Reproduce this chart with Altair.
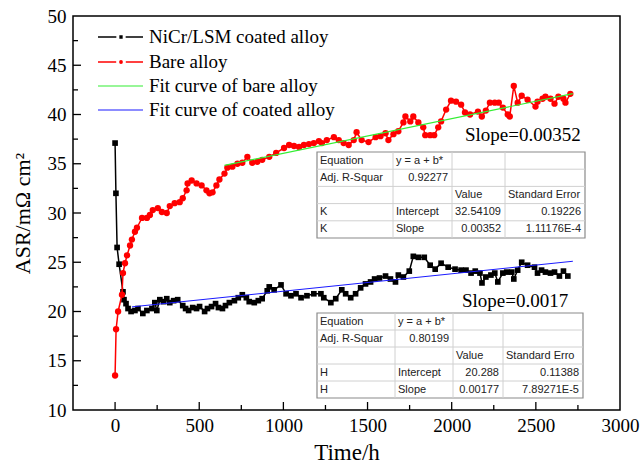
import altair as alt
import pandas as pd

# ---------------- data ----------------
coated_t = [0, 5, 12, 24, 47, 53, 65, 77, 95, 118,
            136, 165, 189, 219, 236, 248, 266, 289, 307, 325,
            348, 372, 402, 419, 437, 461, 484, 502, 532, 549,
            573, 597, 614, 638, 656, 679, 709, 732, 756, 780,
            797, 827, 851, 874, 904, 916, 945, 986, 1016, 1045,
            1075, 1105, 1140, 1181, 1223, 1240, 1282, 1311, 1347, 1370,
            1400, 1429, 1459, 1488, 1518, 1542, 1571, 1607, 1636, 1666,
            1683, 1713, 1748, 1772, 1802, 1837, 1872, 1902, 1937, 1979,
            2020, 2056, 2085, 2115, 2140, 2168, 2180, 2203, 2233, 2256,
            2274, 2304, 2327, 2357, 2369, 2392, 2416, 2451, 2492, 2510,
            2534, 2557, 2587, 2611, 2640, 2664, 2690]
coated_v = [37.1, 32.0, 26.5, 24.8, 22.0, 21.2, 20.8, 20.3, 20.0, 20.1,
            20.3, 19.8, 20.1, 20.3, 20.9, 20.1, 21.2, 21.0, 21.3, 20.9,
            21.1, 21.2, 20.6, 20.3, 20.1, 20.4, 20.3, 20.5, 20.0, 20.3,
            20.5, 20.8, 20.4, 20.3, 20.6, 20.9, 21.1, 21.4, 21.7, 21.4,
            21.0, 20.9, 21.1, 21.3, 22.1, 22.5, 22.2, 22.7, 21.8, 21.6,
            21.8, 21.4, 21.6, 21.8, 21.8, 21.4, 20.9, 21.3, 22.2, 21.8,
            21.4, 21.8, 22.4, 22.8, 23.0, 23.3, 23.4, 23.6, 23.3, 23.0,
            23.7, 23.5, 24.1, 25.6, 25.5, 25.5, 24.7, 24.3, 24.9, 24.5,
            24.3, 24.2, 24.2, 23.9, 24.1, 23.9, 22.9, 23.5, 23.7, 23.9,
            23.0, 23.9, 24.0, 24.0, 23.3, 24.2, 25.0, 24.7, 24.5, 23.9,
            24.2, 24.0, 23.9, 24.0, 23.6, 24.1, 23.6]

bare_t = [0, 6, 18, 41, 47, 59, 71, 89, 100, 118,
          130, 160, 189, 207, 224, 254, 278, 307, 325, 354,
          384, 402, 425, 431, 455, 484, 514, 543, 561, 579,
          602, 620, 650, 667, 697, 727, 756, 786, 815, 845,
          874, 916, 957, 1004, 1034, 1063, 1093, 1122, 1152, 1181,
          1211, 1229, 1258, 1300, 1329, 1358, 1388, 1418, 1435, 1465,
          1506, 1548, 1577, 1607, 1624, 1654, 1683, 1713, 1725, 1754,
          1772, 1802, 1831, 1843, 1872, 1896, 1920, 1937, 1967, 1996,
          2026, 2056, 2079, 2109, 2156, 2179, 2203, 2227, 2256, 2280,
          2304, 2333, 2345, 2369, 2392, 2416, 2451, 2498, 2510, 2540,
          2557, 2587, 2611, 2634, 2664, 2676, 2705]
bare_v = [13.5, 18.2, 20.0, 21.7, 23.9, 24.9, 25.7, 26.7, 27.3, 28.1,
          28.5, 29.5, 29.5, 29.8, 30.3, 30.5, 30.1, 30.0, 30.7, 31.0,
          31.1, 31.5, 32.3, 33.0, 33.3, 33.0, 32.8, 32.3, 32.0, 32.1,
          32.8, 33.4, 34.0, 34.6, 34.7, 35.0, 35.1, 35.7, 35.1, 35.2,
          35.4, 35.7, 36.1, 36.6, 36.9, 36.8, 36.7, 36.9, 37.0, 37.1,
          37.3, 37.1, 37.4, 37.7, 37.4, 37.1, 36.9, 37.4, 38.2, 37.4,
          37.2, 37.7, 37.8, 38.1, 37.4, 38.0, 38.3, 39.2, 39.8, 39.3,
          39.8, 39.2, 38.7, 37.9, 37.9, 37.9, 38.7, 39.3, 40.5, 41.4,
          41.3, 41.0, 40.2, 40.0, 40.3, 39.8, 40.4, 41.2, 41.2, 41.2,
          40.7, 40.0, 39.8, 42.9, 41.2, 41.9, 41.5, 40.8, 41.3, 41.6,
          41.8, 41.6, 41.1, 41.8, 41.6, 41.2, 42.1]

# fitted lines (end points, from the fit tables)
fit_bare_t = [650, 2720]
fit_bare_v = [34.83, 42.12]
fit_coated_t = [100, 2720]
fit_coated_v = [20.47, 25.10]

x_major = [0, 500, 1000, 1500, 2000, 2500]
x_minor = [250, 750, 1250, 1750, 2250, 2750]
x_labels = [0, 500, 1000, 1500, 2000, 2500, 3000]
y_major = [15, 20, 25, 30, 35, 40, 45]
y_minor = [12.5, 17.5, 22.5, 27.5, 32.5, 37.5, 42.5, 47.5]
y_labels = [10, 15, 20, 25, 30, 35, 40, 45, 50]

legend_labels = ["NiCr/LSM coated alloy", "Bare alloy",
                 "Fit curve of bare alloy", "Fit curve of coated alloy"]

table_k = [["Equation", "y = a + b*", "", ""],
           ["Adj. R-Squar", "0.92277", "", ""],
           ["", "", "Value", "Standard Error"],
           ["K", "Intercept", "32.54109", "0.19226"],
           ["K", "Slope", "0.00352", "1.11176E-4"]]
table_h = [["Equation", "y = a + b*", "", ""],
           ["Adj. R-Squar", "0.80199", "", ""],
           ["", "", "Value", "Standard Erro"],
           ["H", "Intercept", "20.288", "0.11388"],
           ["H", "Slope", "0.00177", "7.89271E-5"]]
slope_bare_text = "Slope=0.00352"
slope_coated_text = "Slope=0.0017"

# ---------------- layout ----------------
W, H = 547, 394
PAD = {"left": 73, "top": 16, "right": 640 - 73 - W, "bottom": 470 - 16 - H}
SERIF = "Liberation Serif"
SANS = "Liberation Sans"
RED = "#ff0000"
GREEN = "#33ee33"
BLUE = "#1a1aff"

xs = alt.Scale(domain=[-250, 3000], nice=False, zero=False)
ys = alt.Scale(domain=[10, 50], nice=False, zero=False)

x_axis = alt.Axis(values=x_labels, format="d", title="Time/h", labelFont=SERIF, labelFontSize=19,
                  labelColor="black", titleFont=SERIF, titleFontSize=23,
                  titleFontWeight="normal", titleColor="black", tickSize=0,
                  domain=False, grid=False, labelPadding=6, titlePadding=6,
                  labelFlush=False, labelOverlap=False)
y_axis = alt.Axis(values=y_labels, format="d", title="ASR/mΩ cm²", labelFont=SERIF, labelFontSize=19,
                  labelColor="black", titleFont=SERIF, titleFontSize=22,
                  titleFontWeight="normal", titleColor="black", tickSize=0,
                  domain=False, grid=False, labelPadding=7, titlePadding=13,
                  labelFlush=False, labelOverlap=False)

X = alt.X("t:Q", scale=xs, axis=x_axis)
Y = alt.Y("v:Q", scale=ys, axis=y_axis)

coated = pd.DataFrame({"t": coated_t, "v": coated_v})
bare = pd.DataFrame({"t": bare_t, "v": bare_v})
fit_bare = pd.DataFrame({"t": fit_bare_t, "v": fit_bare_v})
fit_coated = pd.DataFrame({"t": fit_coated_t, "v": fit_coated_v})
dummy = pd.DataFrame({"a": [0]})

layers = []

# inward ticks
layers.append(alt.Chart(pd.DataFrame({"t": x_major})).mark_rule(color="black", strokeWidth=1.3)
              .encode(x=X, y=alt.value(H), y2=alt.value(H - 8)))
layers.append(alt.Chart(pd.DataFrame({"t": x_minor})).mark_rule(color="black", strokeWidth=1.3)
              .encode(x=X, y=alt.value(H), y2=alt.value(H - 5)))
layers.append(alt.Chart(pd.DataFrame({"v": y_major})).mark_rule(color="black", strokeWidth=1.3)
              .encode(y=Y, x=alt.value(0), x2=alt.value(8)))
layers.append(alt.Chart(pd.DataFrame({"v": y_minor})).mark_rule(color="black", strokeWidth=1.3)
              .encode(y=Y, x=alt.value(0), x2=alt.value(5)))

# data series
layers.append(alt.Chart(coated).mark_line(color="black", strokeWidth=1.5).encode(x=X, y=Y))
layers.append(alt.Chart(coated).mark_point(shape="square", filled=True, color="black",
                                           size=32, opacity=1).encode(x=X, y=Y))
layers.append(alt.Chart(bare).mark_line(color=RED, strokeWidth=1.5).encode(x=X, y=Y))
layers.append(alt.Chart(bare).mark_point(shape="circle", filled=True, color=RED,
                                         size=40, opacity=1).encode(x=X, y=Y))
layers.append(alt.Chart(fit_bare).mark_line(color=GREEN, strokeWidth=1.2).encode(x=X, y=Y))
layers.append(alt.Chart(fit_coated).mark_line(color=BLUE, strokeWidth=1.0).encode(x=X, y=Y))


def txt(s, x, y, size, font, align="left", color="black"):
    return (alt.Chart(dummy)
            .mark_text(text=s, font=font, fontSize=size, align=align,
                       baseline="middle", color=color)
            .encode(x=alt.value(x), y=alt.value(y)))


def rule(x1, x2, y1, y2, color, width=1.0):
    return (alt.Chart(dummy).mark_rule(color=color, strokeWidth=width)
            .encode(x=alt.value(x1), x2=alt.value(x2), y=alt.value(y1), y2=alt.value(y2)))


# legend
leg_x0, leg_x1, leg_mid, leg_tx = 25, 70, 48, 76
leg_rows = [21, 46, 70, 94]
leg_colors = ["black", RED, GREEN, BLUE]
for i, (lab, col, yy) in enumerate(zip(legend_labels, leg_colors, leg_rows)):
    layers.append(rule(leg_x0, leg_x1, yy, yy, col, 1.5 if i < 2 else 1.2))
    if i < 2:
        layers.append(alt.Chart(dummy).mark_point(
            shape="square" if i == 0 else "circle", filled=True, fill=col,
            stroke="white", strokeWidth=3, size=40 if i == 0 else 46, opacity=1)
            .encode(x=alt.value(leg_mid), y=alt.value(yy)))
    layers.append(txt(lab, leg_tx, yy, 19, SERIF))


def table(rows, cols, top, rh):
    out = []
    bottom = top + rh * len(rows)
    out.append(alt.Chart(dummy).mark_rect(fill="white", stroke="#8a8a8a", strokeWidth=1.2)
               .encode(x=alt.value(cols[0]), x2=alt.value(cols[-1]),
                       y=alt.value(top), y2=alt.value(bottom)))
    for r in range(1, len(rows)):
        yy = top + r * rh
        out.append(rule(cols[0], cols[-1], yy, yy, "#d0d0d0", 1))
    for c in cols[1:-1]:
        out.append(rule(c, c, top, bottom, "#d0d0d0", 1))
    for r, row in enumerate(rows):
        yc = top + (r + 0.5) * rh
        for c, s in enumerate(row):
            if not s:
                continue
            try:
                float(s)
                numeric = True
            except ValueError:
                numeric = False
            if numeric:
                out.append(txt(s, cols[c + 1] - 4, yc, 11, SANS, "right", "#222222"))
            else:
                out.append(txt(s, cols[c] + 3, yc, 11, SANS, "left", "#222222"))
    return out


layers += table(table_k, [244, 320, 379, 432, 512], 136, 17.2)
layers += table(table_h, [244, 322, 380, 430, 510], 297, 17)

layers.append(txt(slope_bare_text, 392, 119, 19, SERIF))
layers.append(txt(slope_coated_text, 389, 285, 19, SERIF))

chart = (alt.layer(*layers)
         .properties(width=W, height=H, padding=PAD,
                     autosize=alt.AutoSizeParams(type="none"), background="white")
         .configure_view(stroke="black", strokeWidth=1.5))

chart.save("out.html", embed_options={"renderer": "svg", "actions": False})
